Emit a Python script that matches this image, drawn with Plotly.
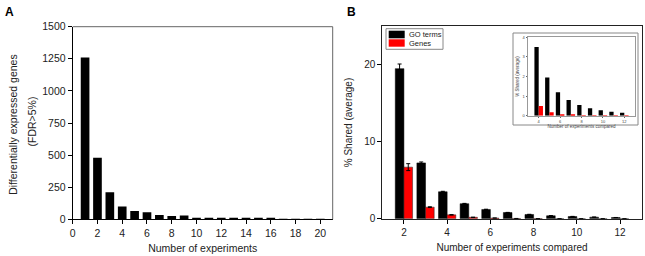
import plotly.graph_objects as go

W, H = 645, 256

# ---------- Data ----------
exp_counts = list(range(1, 21))
de_genes = [1260, 480, 210, 99, 65, 55, 34, 26, 29, 13, 12, 10, 8, 5, 6, 5, 3, 2, 4, 2]

compared = [2, 3, 4, 5, 6, 7, 8, 9, 10, 11, 12]
go_terms = [19.5, 7.25, 3.5, 1.95, 1.2, 0.8, 0.55, 0.38, 0.28, 0.2, 0.15]
go_err = [0.6, 0.12, 0.06, 0.04, 0.03, 0.02, 0.02, 0.02, 0.02, 0.01, 0.01]
genes = [6.7, 1.5, 0.5, 0.18, 0.08, 0.03, 0.01, 0.005, 0.003, 0.002, 0.001]
genes_err = [0.45, 0.05, 0.02, 0.01, 0.0, 0.0, 0.0, 0.0, 0.0, 0.0, 0.0]

inset_x = compared[2:]
inset_go = go_terms[2:]
inset_genes = genes[2:]

a_yticks = [0, 250, 500, 750, 1000, 1250, 1500]
a_xticks = list(range(0, 21, 2))
b_yticks = [0, 10, 20]
b_xticks = [2, 4, 6, 8, 10, 12]
in_yticks = [0, 1, 2, 3, 4]
in_xticks = [4, 6, 8, 10, 12]

FONT = "Liberation Sans, Arial, sans-serif"

def px(x):
    return x / W

def py(y):
    return 1 - y / H

fig = go.Figure()

# Panel A
fig.add_trace(go.Bar(x=exp_counts, y=de_genes, width=0.7, marker=dict(color="black", line=dict(width=0)),
                     xaxis="x", yaxis="y", showlegend=False))

# Panel B
fig.add_trace(go.Bar(x=compared, y=go_terms, name="GO terms",
                     marker=dict(color="black", line=dict(color="black", width=0.5)),
                     error_y=dict(type="data", array=go_err, color="black", thickness=1, width=2),
                     xaxis="x2", yaxis="y2", showlegend=False))
fig.add_trace(go.Bar(x=compared, y=genes, name="Genes",
                     marker=dict(color="#ff0000", line=dict(color="#222", width=0.5)),
                     error_y=dict(type="data", array=genes_err, color="black", thickness=1, width=2),
                     xaxis="x2", yaxis="y2", showlegend=False))

# Inset
fig.add_trace(go.Bar(x=inset_x, y=inset_go, marker=dict(color="black", line=dict(width=0)),
                     xaxis="x3", yaxis="y3", showlegend=False))
fig.add_trace(go.Bar(x=inset_x, y=inset_genes, marker=dict(color="#ff0000", line=dict(width=0)),
                     xaxis="x3", yaxis="y3", showlegend=False))

tickfont_a = dict(family=FONT, size=10.5, color="#222")
titlefont_a = dict(family=FONT, size=10.5, color="#222")
tickfont_b = dict(family=FONT, size=10, color="#222")
titlefont_b = dict(family=FONT, size=10, color="#222")
infont = dict(family=FONT, size=4, color="#444")

common = dict(showgrid=False, zeroline=False, automargin=False, ticks="outside")

fig.update_layout(
    template="none",
    width=W, height=H,
    margin=dict(l=0, r=0, t=0, b=0, pad=0),
    paper_bgcolor="white", plot_bgcolor="rgba(0,0,0,0)",
    barmode="group", bargap=0.2, bargroupgap=0,
    font=dict(family=FONT),
    xaxis=dict(domain=[px(72.7), px(332.7)], anchor="y", range=[0, 21],
               tickvals=a_xticks, ticklen=4, tickwidth=1, tickcolor="black",
               showline=True, linecolor="black", linewidth=1,
               tickfont=tickfont_a, title=dict(text="Number of experiments", font=titlefont_a, standoff=6), **common),
    yaxis=dict(domain=[py(219.3), py(26.7)], anchor="x", range=[0, 1500],
               tickvals=a_yticks, ticklen=4, tickwidth=1, tickcolor="black",
               showline=True, linecolor="black", linewidth=1,
               tickfont=tickfont_a, **common),
    xaxis2=dict(domain=[px(382.3), px(641.7)], anchor="y2", range=[1, 13],
                tickvals=b_xticks, ticklen=4, tickwidth=1, tickcolor="black",
                showline=True, mirror=True, linecolor="#222", linewidth=1,
                tickfont=tickfont_b, title=dict(text="Number of experiments compared", font=titlefont_b, standoff=7), **common),
    yaxis2=dict(domain=[py(218.7), py(26.3)], anchor="x2", range=[0, 25],
                tickvals=b_yticks, ticklen=4, tickwidth=1, tickcolor="black",
                showline=True, mirror=True, linecolor="#222", linewidth=1,
                tickfont=tickfont_b, title=dict(text="% Shared (average)", font=titlefont_b, standoff=9), **common),
    xaxis3=dict(domain=[px(528), px(635)], anchor="y3", range=[3, 13],
                tickvals=in_xticks, ticklen=1.5, tickwidth=0.5, tickcolor="#666",
                showline=True, mirror=True, linecolor="#999", linewidth=1,
                tickfont=infont, title=dict(text="Number of experiments compared", font=dict(family=FONT, size=4.5, color="#444"), standoff=1), **common),
    yaxis3=dict(domain=[py(115.7), py(37.3)], anchor="x3", range=[0, 4],
                tickvals=in_yticks, ticklen=1.5, tickwidth=0.5, tickcolor="#666",
                showline=True, mirror=True, linecolor="#999", linewidth=1,
                tickfont=infont, title=dict(text="% Shared (average)", font=dict(family=FONT, size=4.5, color="#444"), standoff=2), **common),
)

shapes = []
# Panel A gray top/right frame
shapes.append(dict(type="line", xref="paper", yref="paper", x0=px(72.7), x1=px(332.7), y0=py(26.7), y1=py(26.7),
                   line=dict(color="#666", width=1)))
shapes.append(dict(type="line", xref="paper", yref="paper", x0=px(332.7), x1=px(332.7), y0=py(26.7), y1=py(219.3),
                   line=dict(color="#666", width=1)))
# Inset outer box
shapes.append(dict(type="rect", xref="paper", yref="paper", x0=px(513), x1=px(638), y0=py(125), y1=py(33),
                   line=dict(color="#888", width=1), fillcolor="rgba(0,0,0,0)"))
# Legend box and swatches
shapes.append(dict(type="rect", xref="paper", yref="paper", x0=px(386), x1=px(443), y0=py(49.3), y1=py(28.7),
                   line=dict(color="#888", width=1), fillcolor="white"))
shapes.append(dict(type="rect", xref="paper", yref="paper", x0=px(388.7), x1=px(404.7), y0=py(38.3), y1=py(30.7),
                   line=dict(width=0), fillcolor="black"))
shapes.append(dict(type="rect", xref="paper", yref="paper", x0=px(388.7), x1=px(404.7), y0=py(46.7), y1=py(39.3),
                   line=dict(width=0), fillcolor="#ff0000"))
fig.update_layout(shapes=shapes)

ann = []
ann.append(dict(text="<b>A</b>", x=px(9), y=py(12), xref="paper", yref="paper", showarrow=False,
                font=dict(family=FONT, size=12, color="black"), xanchor="center", yanchor="middle"))
ann.append(dict(text="<b>B</b>", x=px(351), y=py(12), xref="paper", yref="paper", showarrow=False,
                font=dict(family=FONT, size=12, color="black"), xanchor="center", yanchor="middle"))
ann.append(dict(text="Differentially expressed genes", x=px(12.8), y=py(125), xref="paper", yref="paper",
                showarrow=False, textangle=-90, font=dict(family=FONT, size=10.5, color="#222"),
                xanchor="center", yanchor="middle"))
ann.append(dict(text="(FDR>5%)", x=px(31.5), y=py(122), xref="paper", yref="paper",
                showarrow=False, textangle=-90, font=dict(family=FONT, size=10.5, color="#222"),
                xanchor="center", yanchor="middle"))
ann.append(dict(text="GO terms", x=px(407), y=py(34.5), xref="paper", yref="paper", showarrow=False,
                font=dict(family=FONT, size=7.5, color="#222"), xanchor="left", yanchor="middle"))
ann.append(dict(text="Genes", x=px(407), y=py(43), xref="paper", yref="paper", showarrow=False,
                font=dict(family=FONT, size=7.5, color="#222"), xanchor="left", yanchor="middle"))
fig.update_layout(annotations=ann)

fig.write_html("out.html", config={"displayModeBar": False},
               post_script="document.body.style.margin='0';document.body.style.overflow='hidden';")
